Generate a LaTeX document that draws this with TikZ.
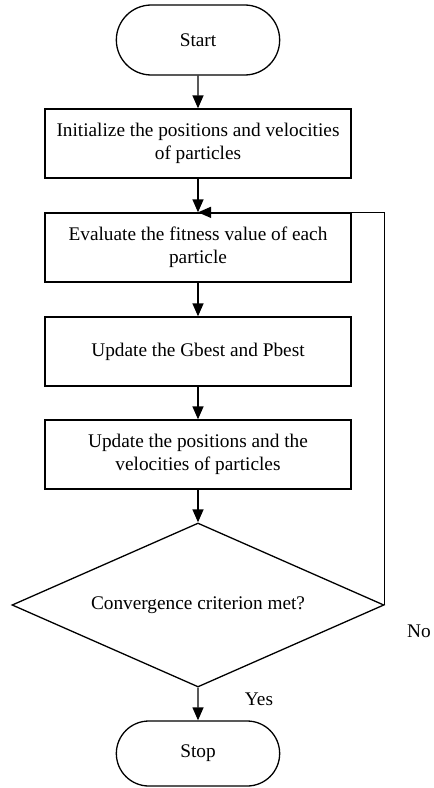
\documentclass[tikz,border=0pt]{standalone}
\usepackage{fontspec}
\setmainfont{Liberation Serif}
\usetikzlibrary{arrows.meta,shapes.geometric,shapes.misc}
\begin{document}
\begin{tikzpicture}[x=1pt,y=-1pt,
  every node/.style={font=\fontsize{19.3}{23}\selectfont},
  proc/.style={draw,line width=1.3pt,rectangle,minimum width=306pt,minimum height=69pt,align=center,inner sep=2pt},
  term/.style={draw,line width=1.3pt,rounded rectangle,minimum width=170pt,minimum height=70pt},
  decis/.style={draw,line width=1.3pt,diamond,aspect=2.268,minimum width=372pt,minimum height=164pt,inner sep=0pt},
  flow/.style={line width=1.3pt,-{Triangle[length=13pt,width=11pt]}},
  lbl/.style={inner sep=0pt}]
\useasboundingbox (0,0) rectangle (434,788);
\node[term] (start) at (198,40) {Start};
\node[proc] (b1) at (198,143.5) {Initialize the positions and velocities\\of particles};
\node[proc] (b2) at (198,247.5) {Evaluate the fitness value of each\\particle};
\node[proc] (b3) at (198,351.5) {Update the Gbest and Pbest};
\node[proc] (b4) at (198,454.5) {Update the positions and the\\velocities of particles};
\node[decis] (dec) at (198,605) {Convergence criterion met?};
\node[term,minimum height=65pt] (stop) at (198,753.5) {Stop};
\node[lbl] (no) at (419,631) {No};
\node[lbl] (yes) at (259,699) {Yes};
\draw[flow] (start) -- (b1);
\draw[flow] (b1) -- (b2);
\draw[flow] (b2) -- (b3);
\draw[flow] (b3) -- (b4);
\draw[flow] (b4) -- (dec);
\draw[flow] (dec) -- (stop);
\draw[flow] (dec.east) |- (b2.north);
\end{tikzpicture}
\end{document}
